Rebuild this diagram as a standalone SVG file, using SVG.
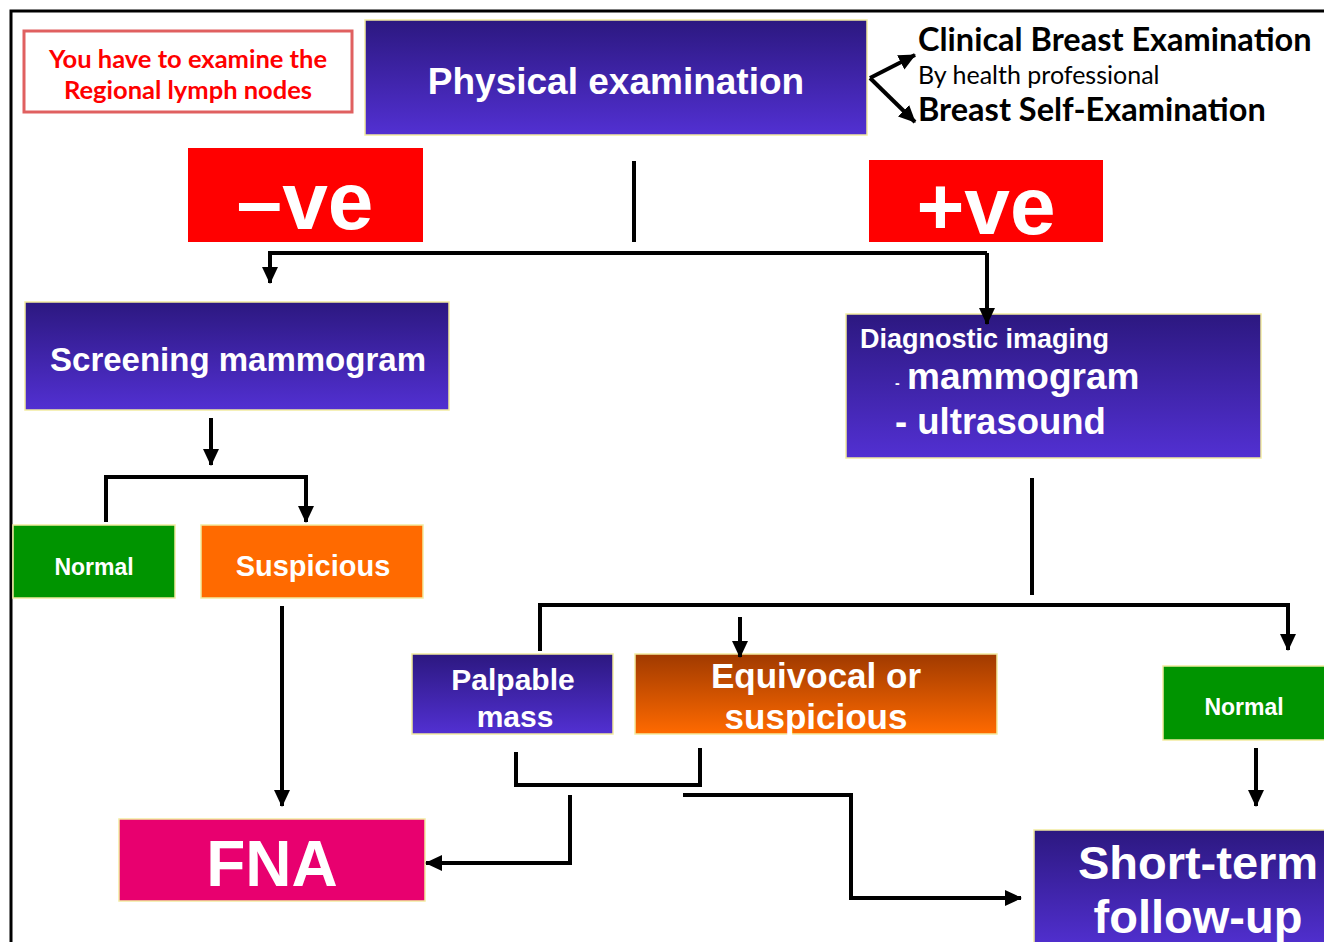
<svg xmlns="http://www.w3.org/2000/svg" width="1324" height="942" viewBox="0 0 1324 942">
<defs>
<linearGradient id="gBlue" x1="0" y1="0" x2="0" y2="1">
<stop offset="0" stop-color="#2C1880"/>
<stop offset="1" stop-color="#5230D2"/>
</linearGradient>
<linearGradient id="gOrange" x1="0" y1="0" x2="0" y2="1">
<stop offset="0" stop-color="#A03A00"/>
<stop offset="1" stop-color="#FF6A00"/>
</linearGradient>
<marker id="ah" markerUnits="userSpaceOnUse" markerWidth="18" markerHeight="18" viewBox="0 0 18 18" refX="16" refY="9" orient="auto">
<path d="M0,1 L17,9 L0,17 Z" fill="#000"/>
</marker>
<style>
.box{stroke:#F2EBA0;stroke-width:1.5}
.wt{fill:#fff;font-family:"Liberation Sans",Arial,sans-serif;font-weight:bold;text-anchor:middle}
.ws{fill:#fff;font-family:"Liberation Sans",Arial,sans-serif;font-weight:bold;text-anchor:start}
.cal{font-family:Lato,"Open Sans",sans-serif}
.ln{fill:none;stroke:#000;stroke-width:4}
.ar{fill:none;stroke:#000;stroke-width:4;marker-end:url(#ah)}
</style>
</defs>
<rect width="1324" height="942" fill="#fff"/>
<path d="M11,942 V11 H1324" fill="none" stroke="#000" stroke-width="3"/>

<g id="note">
<rect x="24" y="31" width="328" height="81" fill="#fff" stroke="#E06060" stroke-width="3"/>
<text class="cal" x="188" y="68" fill="#FF0000" font-size="25.5" font-weight="bold" text-anchor="middle">You have to examine the</text>
<text class="cal" x="188" y="99" fill="#FF0000" font-size="25.5" font-weight="bold" text-anchor="middle">Regional lymph nodes</text>
</g>

<g id="physical">
<rect class="box" x="365" y="20" width="502" height="115" fill="url(#gBlue)"/>
<text class="wt" x="616" y="94" font-size="37">Physical examination</text>
</g>

<g id="exam-types">
<text class="cal" x="918" y="51" font-size="32.5" font-weight="bold" fill="#000">Clinical Breast Examination</text>
<text class="cal" x="918" y="84" font-size="25" fill="#000">By health professional</text>
<text class="cal" x="918" y="121" font-size="32.5" font-weight="bold" fill="#000">Breast Self-Examination</text>
</g>

<g id="neg">
<rect x="188" y="148" width="235" height="94" fill="#FF0000"/>
<text class="wt" x="305" y="229" font-size="82">–ve</text>
</g>

<g id="pos">
<rect x="869" y="160" width="234" height="82" fill="#FF0000"/>
<text class="wt" x="986" y="234" font-size="82">+ve</text>
</g>

<g id="screening">
<rect class="box" x="25" y="302" width="424" height="108" fill="url(#gBlue)"/>
<text class="wt" x="238" y="371" font-size="33">Screening mammogram</text>
</g>

<g id="diagnostic">
<rect class="box" x="846" y="314" width="415" height="144" fill="url(#gBlue)"/>
<text class="ws" x="860" y="348" font-size="27">Diagnostic imaging</text>
<text class="ws" x="895" y="388" font-size="14">-</text>
<text class="ws" x="907" y="389" font-size="37">mammogram</text>
<text class="ws" x="895" y="434" font-size="36.5">- ultrasound</text>
</g>

<g id="normal-left">
<rect class="box" x="13" y="525" width="162" height="73" fill="#009400"/>
<text class="wt" x="94" y="575" font-size="23">Normal</text>
</g>

<g id="suspicious">
<rect class="box" x="201" y="525" width="222" height="73" fill="#FF6A00"/>
<text class="wt" x="313" y="576" font-size="29">Suspicious</text>
</g>

<g id="palpable">
<rect class="box" x="412" y="654" width="201" height="80" fill="url(#gBlue)"/>
<text class="wt" x="513" y="690" font-size="30">Palpable</text>
<text class="wt" x="515" y="727" font-size="30">mass</text>
</g>

<g id="equivocal">
<rect class="box" x="635" y="654" width="362" height="80" fill="url(#gOrange)"/>
<text class="wt" x="816" y="688" font-size="35">Equivocal or</text>
<text class="wt" x="816" y="729" font-size="35">suspicious</text>
</g>

<g id="normal-right">
<rect class="box" x="1163" y="666" width="164" height="74" fill="#009400"/>
<text class="wt" x="1244" y="715" font-size="23">Normal</text>
</g>

<g id="fna">
<rect class="box" x="119" y="819" width="306" height="82" fill="#E8006F"/>
<text class="wt" x="272" y="886" font-size="64">FNA</text>
</g>

<g id="followup">
<rect class="box" x="1034" y="830" width="295" height="120" fill="url(#gBlue)"/>
<text class="wt" x="1198" y="879" font-size="47">Short-term</text>
<text class="wt" x="1198" y="933" font-size="47">follow-up</text>
</g>

<g id="connectors">
<path class="ar" d="M870,78 L915,55"/>
<path class="ar" d="M870,78 L915,122"/>
<path class="ln" d="M634,161 V242"/>
<path class="ar" d="M987,253 H270 V283"/>
<path class="ar" d="M987,253 V324"/>
<path class="ar" d="M211,418 V465"/>
<path class="ar" d="M106,522 V477 H306 V522"/>
<path class="ar" d="M282,606 V806"/>
<path class="ln" d="M1032,478 V595"/>
<path class="ar" d="M540,651 V605 H1288 V650"/>
<path class="ar" d="M740,617 V657"/>
<path class="ar" d="M1256,748 V806"/>
<path class="ln" d="M516,752 V785 H700 V748"/>
<path class="ar" d="M570,795 V863 H426"/>
<path class="ar" d="M683,795 H851 V898 H1021"/>
</g>
</svg>
